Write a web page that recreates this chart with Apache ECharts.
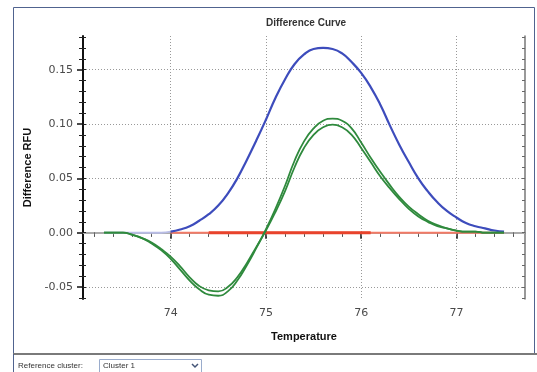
<!DOCTYPE html>
<html>
<head>
<meta charset="utf-8">
<script src="https://cdn.jsdelivr.net/npm/echarts@6/dist/echarts.min.js"></script>
<style>
  html, body { margin: 0; padding: 0; background: #fff; }
  #chart { width: 537px; height: 372px; }
</style>
</head>
<body>
<div id="chart"></div>
<script>
// temperatures sampled along the curves
const temps = [73.3, 73.5, 73.6, 73.7, 73.8, 73.9, 74.0, 74.1, 74.2, 74.3, 74.4, 74.5, 74.6, 74.7, 74.8, 74.9,
  75.0, 75.1, 75.2, 75.3, 75.4, 75.5, 75.6, 75.7, 75.8, 75.9, 76.0, 76.1, 76.2, 76.3, 76.4, 76.5,
  76.6, 76.7, 76.8, 76.9, 77.0, 77.1, 77.2, 77.3, 77.4, 77.5]

// blue cluster
const blueRfu = [null, null, null, null, null, null, 0.001, 0.003, 0.006, 0.011, 0.017, 0.025, 0.036, 0.050, 0.067, 0.085,
  0.104, 0.124, 0.141, 0.155, 0.164, 0.169, 0.170, 0.169, 0.165, 0.157, 0.147, 0.134, 0.118, 0.099, 0.081, 0.065,
  0.050, 0.038, 0.028, 0.020, 0.014, 0.009, 0.006, 0.004, 0.002, 0.001]
// faint start of the blue trace
const blueStart = [0, 0, 0, 0, 0, 0, 0.001, null, null, null, null, null, null, null, null, null,
  null, null, null, null, null, null, null, null, null, null, null, null, null, null, null, null,
  null, null, null, null, null, null, null, null, null, null]

// green cluster, two wells
const greenA = [0, 0, -0.002, -0.005, -0.010, -0.016, -0.024, -0.034, -0.044, -0.052, -0.057, -0.058, -0.054, -0.044, -0.030, -0.014,
  0.003, 0.022, 0.043, 0.066, 0.084, 0.096, 0.103, 0.105, 0.103, 0.096, 0.083, 0.069, 0.056, 0.044, 0.033, 0.024,
  0.017, 0.011, 0.007, 0.004, 0.002, 0.001, 0.001, 0, 0, 0]
const greenB = [0, 0, -0.002, -0.005, -0.009, -0.015, -0.022, -0.031, -0.041, -0.049, -0.053, -0.054, -0.050, -0.041, -0.028, -0.013,
  0.002, 0.019, 0.038, 0.060, 0.078, 0.090, 0.097, 0.0995, 0.097, 0.090, 0.078, 0.065, 0.052, 0.041, 0.031, 0.022,
  0.015, 0.010, 0.006, 0.004, 0.002, 0.001, 0.001, 0, 0, 0]

// red reference cluster
const redThin = [[74.0, 0], [77.5, 0]]
const redThick = [[74.4, 0], [76.1, 0]]

const xMajor = [74, 75, 76, 77]
const xMinor = [73.2, 73.4, 73.6, 73.8, 74.2, 74.4, 74.6, 74.8, 75.2, 75.4, 75.6, 75.8,
  76.2, 76.4, 76.6, 76.8, 77.2, 77.4, 77.6]
const yMajor = [-0.05, 0, 0.05, 0.10, 0.15]
const yMinor = [-0.06, -0.04, -0.03, -0.02, -0.01, 0.01, 0.02, 0.03, 0.04, 0.06, 0.07, 0.08, 0.09,
  0.11, 0.12, 0.13, 0.14, 0.16, 0.17, 0.18]

const X_MIN = 73.08, X_MAX = 77.72
const Y_MIN = -0.061, Y_MAX = 0.181

const chart = echarts.init(document.getElementById('chart'))

const pairs = (vals) => temps.map((t, i) => [t, vals[i]])

const labelFont = { fontFamily: 'DejaVu Sans', fontSize: 11, color: '#4a4a4a' }

function xAx(extra) {
  return Object.assign({
    type: 'value', min: X_MIN, max: X_MAX,
    axisLine: { show: false }, axisLabel: { show: false },
    axisTick: { show: false }, splitLine: { show: false }
  }, extra)
}
function yAx(extra) {
  return Object.assign({
    type: 'value', min: Y_MIN, max: Y_MAX,
    axisLine: { show: false }, axisLabel: { show: false },
    axisTick: { show: false }, splitLine: { show: false }
  }, extra)
}

function curve(vals, color, width) {
  return { type: 'line', data: pairs(vals), showSymbol: false, smooth: true,
    lineStyle: { color: color, width: width } }
}

const option = {
  backgroundColor: '#fff',
  animation: false,
  title: {
    text: 'Difference Curve',
    left: 301, top: 13, textAlign: 'center',
    textStyle: { fontFamily: 'Liberation Sans', fontSize: 10, fontWeight: 'bold', color: '#333' }
  },
  grid: { left: 83, top: 36, right: 12, bottom: 73 },
  xAxis: [
    xAx({
      position: 'bottom',
      name: 'Temperature', nameLocation: 'middle', nameGap: 32,
      nameTextStyle: { fontFamily: 'Liberation Sans', fontSize: 11, fontWeight: 'bold', color: '#111' },
      axisLine: { show: true, lineStyle: { color: '#111', width: 2 } },
      axisTick: { show: true, customValues: xMajor, length: 6, lineStyle: { color: '#111', width: 1.5 } },
      axisLabel: Object.assign({ show: true, customValues: xMajor, margin: 9 }, labelFont),
      splitLine: { show: true, lineStyle: { color: '#999', type: [1, 2] } }
    }),
    xAx({
      position: 'bottom',
      axisTick: { show: true, customValues: xMinor, length: 4, lineStyle: { color: '#222' } }
    }),
    xAx({
      position: 'top',
      axisLine: { show: true, lineStyle: { color: '#aaa', width: 2 } },
      axisTick: { show: true, inside: true, customValues: xMajor.concat(xMinor), length: 3, lineStyle: { color: '#666' } }
    })
  ],
  yAxis: [
    yAx({
      position: 'left',
      name: 'Difference RFU', nameLocation: 'middle', nameGap: 50,
      nameTextStyle: { fontFamily: 'Liberation Sans', fontSize: 11, fontWeight: 'bold', color: '#111' },
      axisLine: { show: true, lineStyle: { color: '#111', width: 2 } },
      axisTick: { show: true, customValues: yMajor, length: 6, lineStyle: { color: '#111', width: 1.5 } },
      axisLabel: Object.assign({ show: true, customValues: yMajor, margin: 10,
        formatter: v => v.toFixed(2) }, labelFont),
      splitLine: { show: true, lineStyle: { color: '#999', type: [1, 2] } }
    }),
    yAx({
      position: 'left',
      axisTick: { show: true, customValues: yMinor, length: 4, lineStyle: { color: '#222' } }
    }),
    yAx({
      position: 'left',
      axisTick: { show: true, inside: true, customValues: yMajor.concat(yMinor), length: 3, lineStyle: { color: '#222' } }
    }),
    yAx({
      position: 'right',
      axisLine: { show: true, lineStyle: { color: '#777', width: 1.5 } },
      axisTick: { show: true, inside: true, customValues: yMajor.concat(yMinor), length: 3, lineStyle: { color: '#666' } }
    })
  ],
  series: [
    curve(blueStart, '#b9bde6', 2),
    { type: 'line', data: redThin, showSymbol: false,
      lineStyle: { color: '#f27a66', width: 2 } },
    { type: 'line', data: redThick, showSymbol: false,
      lineStyle: { color: '#e8432c', width: 3 } },
    curve(blueRfu, '#3d4cbc', 2.2),
    curve(greenA, '#2f8a3d', 1.8),
    curve(greenB, '#2f8a3d', 1.8)
  ],
  graphic: [
    { type: 'rect', shape: { x: 13.5, y: 7.5, width: 521, height: 346 },
      style: { fill: null, stroke: '#50638f', lineWidth: 1 }, silent: true },
    { type: 'line', shape: { x1: 13, y1: 354, x2: 537, y2: 354 },
      style: { stroke: '#7a7a7a', lineWidth: 2 } },
    { type: 'line', shape: { x1: 13.5, y1: 354, x2: 13.5, y2: 372 },
      style: { stroke: '#50638f', lineWidth: 1 } },
    { type: 'text', x: 18, y: 366,
      style: { text: 'Reference cluster:', fontFamily: 'Liberation Sans', fontSize: 8, fill: '#333', verticalAlign: 'middle' } },
    { type: 'rect', shape: { x: 99.5, y: 359.5, width: 102, height: 14 },
      style: { fill: '#fff', stroke: '#9aaccc', lineWidth: 1 } },
    { type: 'text', x: 103, y: 366,
      style: { text: 'Cluster 1', fontFamily: 'Liberation Sans', fontSize: 8, fill: '#333', verticalAlign: 'middle' } },
    { type: 'polyline', shape: { points: [[192, 364], [195, 367], [198, 364]] },
      style: { stroke: '#445577', lineWidth: 1.5, fill: null } }
  ]
}

chart.setOption(option)
</script>
</body>
</html>
